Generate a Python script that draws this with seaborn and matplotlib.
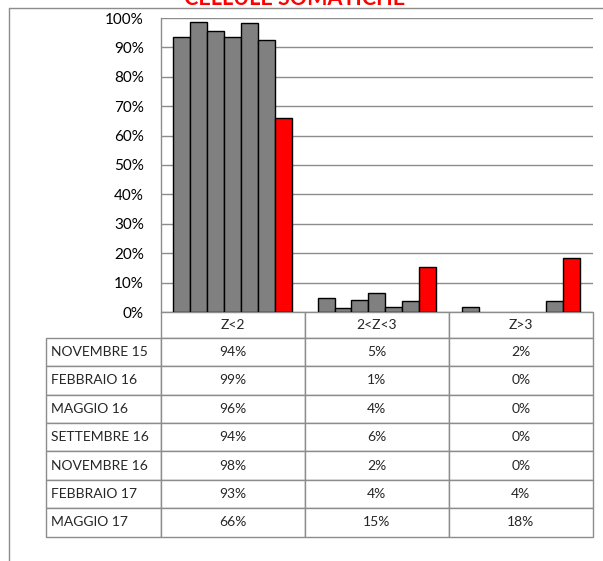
import pandas as pd
import matplotlib.pyplot as plt
import seaborn as sns
from matplotlib.table import Table
from matplotlib.lines import Line2D
from matplotlib.ticker import FuncFormatter

# -------------------------------
# Data
# -------------------------------
categories = ["Z<2", "2<Z<3", "Z>3"]
periods = ["NOVEMBRE 15", "FEBBRAIO 16", "MAGGIO 16", "SETTEMBRE 16",
           "NOVEMBRE 16", "FEBBRAIO 17", "MAGGIO 17"]
z_lt2 = [93.6, 98.6, 95.7, 93.6, 98.2, 92.6, 66.0]
z_2_3 = [4.8, 1.4, 4.2, 6.4, 1.7, 3.6, 15.3]
z_gt3 = [1.6, 0.0, 0.0, 0.0, 0.0, 3.6, 18.4]

series = {"Z<2": z_lt2, "2<Z<3": z_2_3, "Z>3": z_gt3}
rows = []
for cat, vals in series.items():
    for per, v in zip(periods, vals):
        rows.append({"classe": cat, "periodo": per, "valore": v})
df = pd.DataFrame(rows)

colors = ["#808080"] * 6 + ["#FF0000"]
grid_col = "#8c8c8c"

sns.set_style("white")
plt.rcParams["font.family"] = ["Lato", "DejaVu Sans"]

W, H = 603, 561
ax_l, ax_r, ax_t, ax_b = 160.5, 593, 18, 312
fig = plt.figure(figsize=(W / 100, H / 100), dpi=100)
ax = fig.add_axes([ax_l / W, 1 - ax_b / H, (ax_r - ax_l) / W, (ax_b - ax_t) / H])

sns.barplot(data=df, x="classe", y="valore", hue="periodo",
            order=categories, hue_order=periods, palette=colors,
            width=0.82, saturation=1, edgecolor="black", linewidth=1,
            errorbar=None, legend=False, ax=ax)

# zero bars should not leave a black line on the base
for p in ax.patches:
    if p.get_height() == 0:
        p.set_linewidth(0)

ax.set_ylim(0, 100)
ax.set_xlim(-0.5, 2.5)
ax.set_yticks(range(0, 101, 10))
ax.yaxis.set_major_formatter(FuncFormatter(lambda v, _: f"{v:.0f}%"))
ax.set_xticks([])
ax.set_xlabel("")
ax.set_ylabel("")
ax.tick_params(axis="y", length=0, pad=12, labelsize=11, colors="black")
ax.yaxis.grid(True, color=grid_col, linewidth=1)
ax.set_axisbelow(True)
for side in ["top", "right", "bottom"]:
    ax.spines[side].set_visible(False)
ax.spines["left"].set_color(grid_col)
ax.spines["left"].set_linewidth(1)

# -------------------------------
# Data table under the bars
# -------------------------------
aw, ah = ax_r - ax_l, ax_b - ax_t
tab_left, tab_bottom = 46, 536.7
tab = Table(ax, bbox=[(tab_left - ax_l) / aw, -(tab_bottom - ax_b) / ah,
                      (ax_r - tab_left) / aw, (tab_bottom - ax_b) / ah])
col_w = [ax_l - tab_left] + [aw / 3] * 3
head_h, row_h = 25.7, 28.43

corner = tab.add_cell(0, 0, col_w[0], head_h, text="")
corner.visible_edges = ""
for j, cat in enumerate(categories, start=1):
    tab.add_cell(0, j, col_w[j], head_h, text=cat, loc="center")

for i, per in enumerate(periods, start=1):
    cell = tab.add_cell(i, 0, col_w[0], row_h, text=per, loc="left")
    cell.PAD = 0.04
    for j, cat in enumerate(categories, start=1):
        tab.add_cell(i, j, col_w[j], row_h,
                     text=f"{series[cat][i - 1]:.0f}%", loc="center")

tab.auto_set_font_size(False)
tab.set_fontsize(10)
for cell in tab.get_celld().values():
    cell.set_edgecolor(grid_col)
    cell.set_linewidth(1)
ax.add_table(tab)

# outer chart frame (only top and left edges fall inside the image)
fig.add_artist(Line2D([9 / W, 1], [1 - 8 / H, 1 - 8 / H],
                      color=grid_col, linewidth=1))
fig.add_artist(Line2D([9 / W, 9 / W], [0, 1 - 8 / H],
                      color=grid_col, linewidth=1))

fig.text(295 / W, 1 - 5 / H, "CELLULE SOMATICHE", color="#FF0000",
         fontsize=15.5, fontweight="bold", ha="center", va="baseline")

fig.savefig("out.png", dpi=100)
